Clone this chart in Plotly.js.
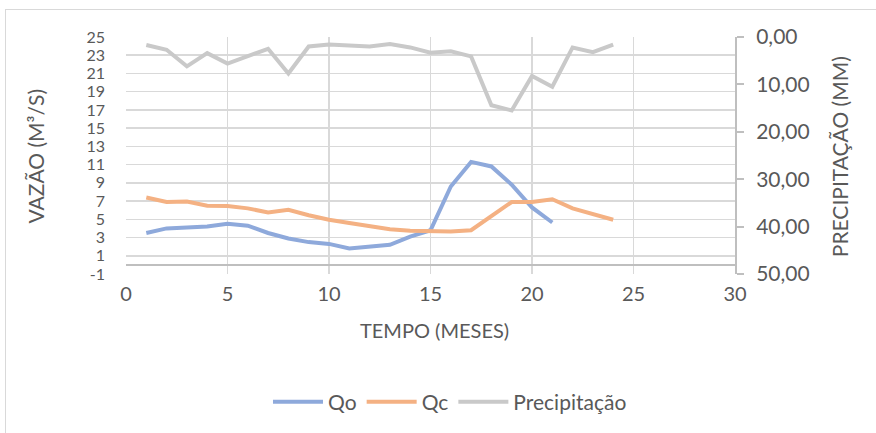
<!DOCTYPE html>
<html>
<head>
<meta charset="utf-8">
<script src="https://cdn.plot.ly/plotly-3.0.1.min.js"></script>
<style>
html,body{margin:0;padding:0;background:#fff;overflow:hidden;}
#wrap{position:relative;width:876px;height:433px;}
#chart{position:absolute;left:0;top:0;width:876px;height:433px;}
#frame{position:absolute;left:5px;top:9px;width:920px;height:480px;border:1.5px solid #d9d9d9;pointer-events:none;}
</style>
</head>
<body>
<div id="wrap">
<div id="frame"></div>
<div id="chart"></div>
</div>
<script>
// Month index
const meses = [1,2,3,4,5,6,7,8,9,10,11,12,13,14,15,16,17,18,19,20,21,22,23,24];
const mesesQo = [1,2,3,4,5,6,7,8,9,10,11,12,13,14,15,16,17,18,19,20,21];
// Observed discharge Qo (m3/s)
const qo = [3.5,4.0,4.1,4.2,4.5,4.3,3.5,2.9,2.5,2.3,1.8,2.0,2.2,3.1,3.8,8.6,11.3,10.8,8.8,6.3,4.65];
// Calculated discharge Qc (m3/s)
const qc = [7.4,6.9,6.95,6.5,6.45,6.2,5.75,6.05,5.45,4.95,4.6,4.3,3.9,3.75,3.65,3.65,3.8,5.4,6.9,6.9,7.2,6.2,5.6,4.95];
// Precipitation (mm), plotted on reversed secondary axis
const precip = [1.7,2.7,6.2,3.4,5.6,4.1,2.5,7.7,2.0,1.6,1.9,2.0,1.5,2.2,3.3,3.0,4.1,14.4,15.5,8.2,10.5,2.2,3.2,1.6];

const leftTicks = [-1,1,3,5,7,9,11,13,15,17,19,21,23,25];
const rightTicks = [0,10,20,30,40,50];
const xTicks = [0,5,10,15,20,25,30];

const FONT = 'Lato, "Open Sans", sans-serif';
const TXT = '#595959';

const traces = [
  {x: mesesQo, y: qo, name: 'Qo', type: 'scatter', mode: 'lines',
   line: {color: '#8EA9DB', width: 4}, yaxis: 'y'},
  {x: meses, y: qc, name: 'Qc', type: 'scatter', mode: 'lines',
   line: {color: '#F4B183', width: 4}, yaxis: 'y'},
  {x: meses, y: precip, name: 'Precipitação', type: 'scatter', mode: 'lines',
   line: {color: '#C9C9C9', width: 4}, yaxis: 'y2'}
];

const layout = {
  width: 876, height: 433,
  margin: {l: 126, r: 141, t: 37, b: 158, pad: 0},
  paper_bgcolor: 'rgba(0,0,0,0)',
  plot_bgcolor: '#ffffff',
  separators: ',.',
  font: {family: FONT, color: TXT, size: 17},
  showlegend: true,
  legend: {orientation: 'h', x: 0.532, y: -0.534, xanchor: 'center', yanchor: 'middle',
           font: {family: FONT, size: 21, color: TXT}, bgcolor: 'rgba(0,0,0,0)',
           itemwidth: 50},
  xaxis: {
    range: [0, 30], tickvals: xTicks, ticktext: xTicks.map(String),
    showgrid: true, gridcolor: '#d9d9d9', gridwidth: 1.5,
    zeroline: false, showline: false, ticks: '',
    tickfont: {family: FONT, size: 20, color: TXT},
    ticklabelstandoff: 6, fixedrange: true
  },
  yaxis: {
    range: [-1, 25], tickvals: leftTicks, ticktext: leftTicks.map(String),
    showgrid: true, gridcolor: '#d9d9d9', gridwidth: 1.5,
    zeroline: true, zerolinecolor: '#bfbfbf', zerolinewidth: 2.5,
    showline: false, ticks: '',
    tickfont: {family: FONT, size: 16, color: TXT},
    ticklabelstandoff: 20, fixedrange: true
  },
  yaxis2: {
    overlaying: 'y', side: 'right', range: [50, 0],
    tickvals: rightTicks, tickformat: '.2f',
    showgrid: false, zeroline: false,
    showline: true, linecolor: '#bfbfbf', linewidth: 2,
    ticks: 'outside', ticklen: 7, tickwidth: 2, tickcolor: '#bfbfbf',
    tickfont: {family: FONT, size: 21, color: TXT},
    ticklabelstandoff: 8, fixedrange: true
  },
  annotations: [
    {text: 'VAZÃO (M³/S)', xref: 'paper', yref: 'paper', x: -0.1494, y: 0.496,
     xanchor: 'center', yanchor: 'middle', textangle: -90, showarrow: false,
     font: {family: FONT, size: 21, color: TXT}},
    {text: 'PRECIPITAÇÃO (MM)', xref: 'paper', yref: 'paper', x: 1.172, y: 0.496,
     xanchor: 'center', yanchor: 'middle', textangle: -90, showarrow: false,
     font: {family: FONT, size: 21, color: TXT}},
    {text: 'TEMPO (MESES)', xref: 'paper', yref: 'paper', x: 0.506, y: -0.235,
     xanchor: 'center', yanchor: 'middle', showarrow: false,
     font: {family: FONT, size: 20, color: TXT}}
  ]
};

Plotly.newPlot('chart', traces, layout, {staticPlot: true, displayModeBar: false});
</script>
</body>
</html>
